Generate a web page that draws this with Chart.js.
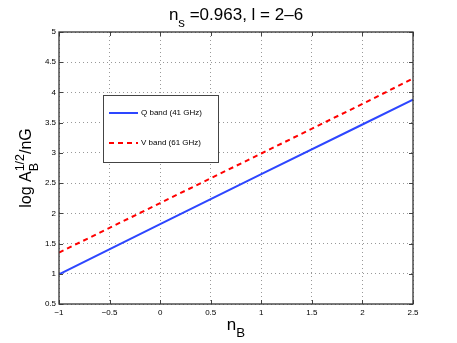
<!DOCTYPE html>
<html>
<head>
<meta charset="utf-8">
<script src="https://cdn.jsdelivr.net/npm/chart.js@4"></script>
<style>
  html, body { margin: 0; padding: 0; background: #fff; }
  #wrap { width: 457px; height: 343px; }
</style>
</head>
<body>
<div id="wrap"><canvas id="chart" width="457" height="343"></canvas></div>
<script>
// values
const nB = [-1, 0, 1, 2, 2.5];
const qBand = [0.99, 1.82, 2.65, 3.47, 3.88];
const vBand = [1.35, 2.17, 2.99, 3.81, 4.23];
const seriesNames = ["Q band (41 GHz)", "V band (61 GHz)"];
const xTicks = [-1, -0.5, 0, 0.5, 1, 1.5, 2, 2.5];
const yTicks = [0.5, 1, 1.5, 2, 2.5, 3, 3.5, 4, 4.5, 5];

const FONT = "'Liberation Sans', Arial, sans-serif";
const canvas = document.getElementById("chart");

function toPoints(xs, ys) {
    return xs.map((x, i) => ({ x: x, y: ys[i] }));
}

// text with a subscript / superscript piece, drawn left to right
function drawRich(ctx, parts, x, y, size) {
    let cx = x;
    parts.forEach(p => {
        const s = p.sub || p.sup ? size * 0.78 : size;
        ctx.font = s + "px " + FONT;
        let dy = 0;
        if (p.sub) dy = size * 0.42;
        if (p.sup) dy = -size * 0.45;
        ctx.fillText(p.t, cx, y + dy);
        cx += ctx.measureText(p.t).width;
    });
    return cx - x;
}
function richWidth(ctx, parts, size) {
    let w = 0;
    parts.forEach(p => {
        const s = p.sub || p.sup ? size * 0.78 : size;
        ctx.font = s + "px " + FONT;
        w += ctx.measureText(p.t).width;
    });
    return w;
}

const decorPlugin = {
    id: "decor",
    afterDatasetsDraw(chart) {
        const ctx = chart.ctx;
        const a = chart.chartArea;
        const xs = chart.scales.x, ys = chart.scales.y;
        ctx.save();

        // inward ticks on all four sides
        ctx.strokeStyle = "#444";
        ctx.lineWidth = 1;
        xTicks.forEach(v => {
            const px = Math.round(xs.getPixelForValue(v)) + 0.5;
            ctx.beginPath();
            ctx.moveTo(px, a.bottom); ctx.lineTo(px, a.bottom - 4);
            ctx.moveTo(px, a.top); ctx.lineTo(px, a.top + 4);
            ctx.stroke();
        });
        yTicks.forEach(v => {
            const py = Math.round(ys.getPixelForValue(v)) + 0.5;
            ctx.beginPath();
            ctx.moveTo(a.left, py); ctx.lineTo(a.left + 4, py);
            ctx.moveTo(a.right, py); ctx.lineTo(a.right - 4, py);
            ctx.stroke();
        });

        // axes box
        ctx.strokeStyle = "#333";
        ctx.lineWidth = 1.3;
        ctx.strokeRect(a.left, a.top, a.right - a.left, a.bottom - a.top);

        // legend box
        const lx = 103, ly = 95, lw = 115, lh = 67;
        ctx.fillStyle = "#fff";
        ctx.fillRect(lx, ly, lw, lh);
        ctx.strokeStyle = "#444";
        ctx.lineWidth = 1;
        ctx.strokeRect(lx + 0.5, ly + 0.5, lw, lh);
        chart.data.datasets.forEach((ds, i) => {
            const yy = ly + 18 + i * 30;
            ctx.strokeStyle = ds.borderColor;
            ctx.lineWidth = 2;
            ctx.setLineDash(ds.borderDash || []);
            ctx.beginPath();
            ctx.moveTo(lx + 6, yy); ctx.lineTo(lx + 35, yy);
            ctx.stroke();
            ctx.setLineDash([]);
            ctx.fillStyle = "#000";
            ctx.font = "8px " + FONT;
            ctx.textBaseline = "middle";
            ctx.textAlign = "left";
            ctx.fillText(ds.label, lx + 38, yy);
        });

        ctx.fillStyle = "#000";
        ctx.textBaseline = "alphabetic";
        ctx.textAlign = "left";

        // title
        const tParts = [{ t: "n" }, { t: "s", sub: true }, { t: " =0.963, l = 2\u20136" }];
        const tw = richWidth(ctx, tParts, 17);
        drawRich(ctx, tParts, (a.left + a.right) / 2 - tw / 2, 20, 17);

        // x title
        const xParts = [{ t: "n" }, { t: "B", sub: true }];
        const xw = richWidth(ctx, xParts, 17);
        drawRich(ctx, xParts, (a.left + a.right) / 2 - xw / 2, 330, 17);

        // y title, rotated; sub and sup share one spot
        const fs = 16;
        ctx.translate(31, (a.top + a.bottom) / 2);
        ctx.rotate(-Math.PI / 2);
        ctx.font = fs + "px " + FONT;
        const w1 = ctx.measureText("log A").width;
        ctx.font = (fs * 0.78) + "px " + FONT;
        const wSub = ctx.measureText("B").width;
        const wSup = ctx.measureText("1/2").width;
        ctx.font = fs + "px " + FONT;
        const w4 = ctx.measureText("/nG").width;
        const total = w1 + Math.max(wSub, wSup) + w4;
        const sx = -total / 2;
        drawRich(ctx, [{ t: "log A" }], sx, 0, fs);
        drawRich(ctx, [{ t: "B", sub: true }], sx + w1, 0, fs);
        drawRich(ctx, [{ t: "1/2", sup: true }], sx + w1, 0, fs);
        drawRich(ctx, [{ t: "/nG" }], sx + w1 + Math.max(wSub, wSup), 0, fs);

        ctx.restore();
    }
};

const chart = new Chart(canvas, {
    type: "line",
    data: {
        datasets: [
            {
                label: seriesNames[0],
                data: toPoints(nB, qBand),
                borderColor: "rgb(45,70,255)",
                borderWidth: 2,
                pointRadius: 0,
                fill: false
            },
            {
                label: seriesNames[1],
                data: toPoints(nB, vBand),
                borderColor: "rgb(255,0,0)",
                borderWidth: 2,
                borderDash: [5, 4],
                pointRadius: 0,
                fill: false
            }
        ]
    },
    options: {
        responsive: false,
        animation: false,
        layout: { padding: { left: 0, top: 32, right: 44, bottom: 0 } },
        plugins: {
            legend: { display: false },
            tooltip: { enabled: false },
            title: { display: false }
        },
        scales: {
            x: {
                type: "linear",
                min: -1,
                max: 2.5,
                afterBuildTicks: s => { s.ticks = xTicks.map(v => ({ value: v })); },
                afterFit: s => { s.height = 39; },
                grid: {
                    color: "#999",
                    lineWidth: 1,
                    tickLength: 0,
                    drawTicks: false
                },
                border: { display: false, dash: [1, 3] },
                ticks: {
                    color: "#000",
                    font: { size: 8, family: FONT },
                    padding: 4,
                    maxRotation: 0,
                    callback: v => String(v).replace("-", "\u2212")
                }
            },
            y: {
                type: "linear",
                min: 0.5,
                max: 5,
                afterBuildTicks: s => { s.ticks = yTicks.map(v => ({ value: v })); },
                afterFit: s => { s.width = 59; },
                grid: {
                    color: "#999",
                    lineWidth: 1,
                    tickLength: 0,
                    drawTicks: false
                },
                border: { display: false, dash: [1, 3] },
                ticks: {
                    color: "#000",
                    font: { size: 8, family: FONT },
                    padding: 3,
                    callback: v => String(v)
                }
            }
        }
    },
    plugins: [decorPlugin]
});
</script>
</body>
</html>
